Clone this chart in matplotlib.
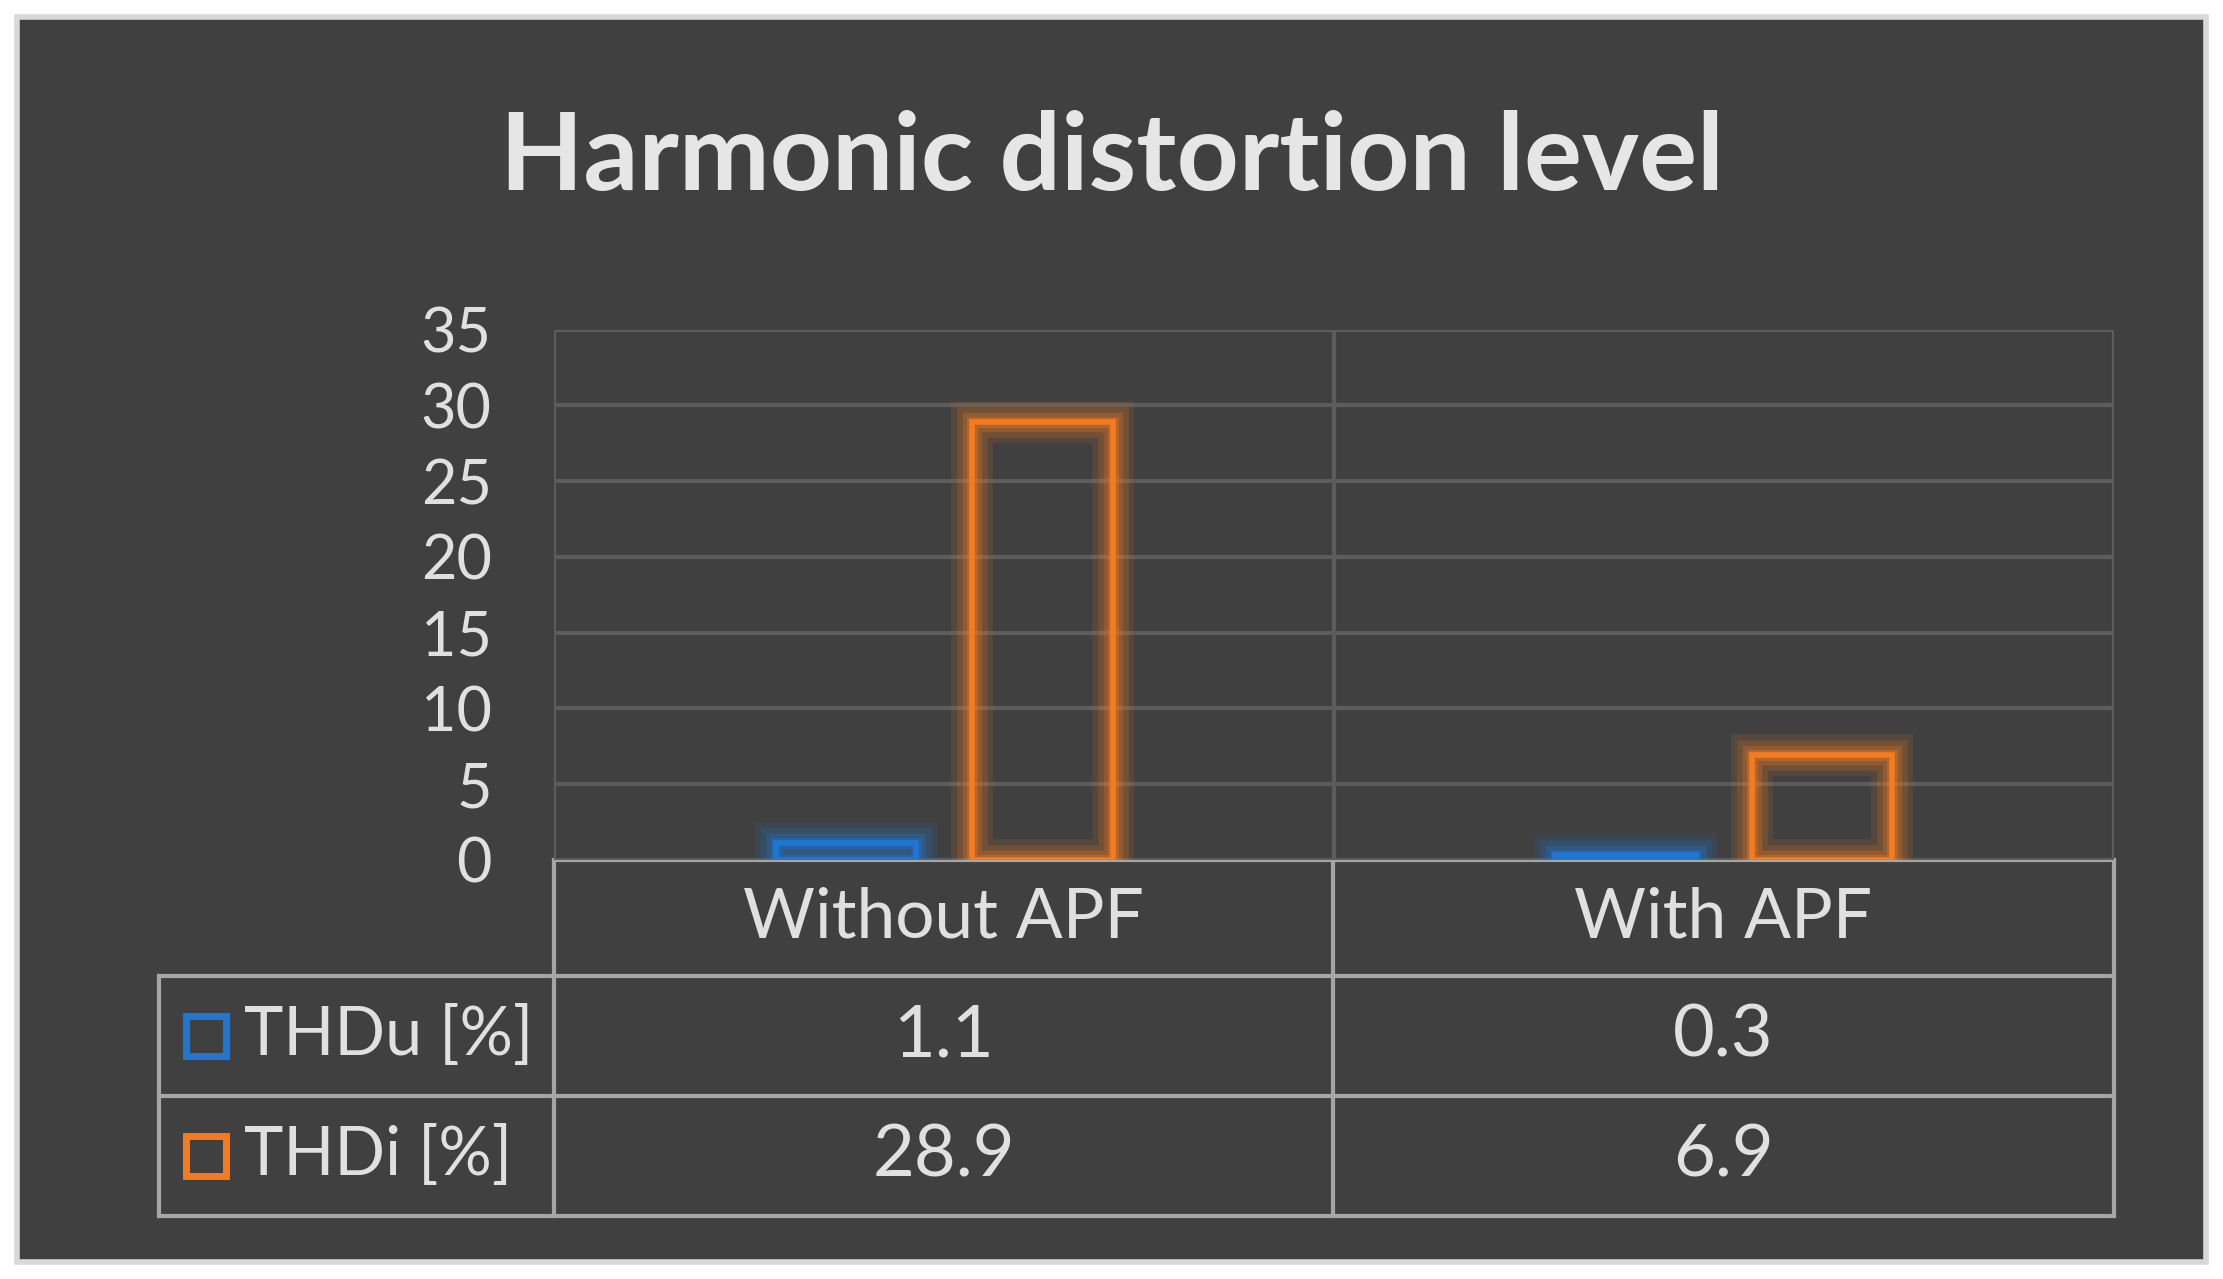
import matplotlib.pyplot as plt
from matplotlib.patches import Rectangle

categories = ["Without APF", "With APF"]
series = ["THDu [%]", "THDi [%]"]
thdu = [1.1, 0.3]
thdi = [28.9, 6.9]
colors = ["#1f77d4", "#f47b20"]
yticks = [0, 5, 10, 15, 20, 25, 30, 35]

W, H = 1564, 900
bg = "#404040"
fig = plt.figure(figsize=(22.23, 12.79), dpi=100, facecolor="white")
plt.rcParams["font.family"] = ["Lato", "DejaVu Sans"]

def fx(x):
    return x / W

def fy(y):
    return 1 - y / H

# full-figure overlay for frame + table
ov = fig.add_axes([0, 0, 1, 1])
ov.set_xlim(0, W)
ov.set_ylim(H, 0)
ov.axis("off")
ov.add_patch(Rectangle((12, 12), 1540, 876, facecolor=bg, edgecolor="#d9d9d9", lw=4))
ov.text(782, 112, "Harmonic distortion level", ha="center", va="center",
        fontsize=78, fontweight="bold", color="#e6e6e6")

# plot area
x0, x1, ytop, ybot = 390, 1487, 232, 605
ax = fig.add_axes([fx(x0), fy(ybot), fx(x1 - x0), (ybot - ytop) / H])
ax.set_facecolor(bg)
ax.set_xlim(0, 2)
ax.set_ylim(0, 35)
ax.set_yticks(yticks)
ax.set_yticklabels([str(t) for t in yticks], fontsize=44, color="#e0e0e0")
ax.tick_params(axis="y", length=0, pad=45)
ax.set_xticks([])
for s in ax.spines.values():
    s.set_visible(False)
for t in yticks:
    ax.axhline(t, color="#5c5c5c", lw=3, zorder=1)
for xv in [0, 1, 2]:
    ax.axvline(xv, color="#5c5c5c", lw=3, zorder=1)

bw = 0.18
for i, vals in enumerate([thdu, thdi]):
    off = -0.126 if i == 0 else 0.126
    for j, v in enumerate(vals):
        xc = j + 0.5 + off
        for lw, a in [(30, 0.12), (22, 0.18), (14, 0.25), (8, 0.35)]:
            ax.add_patch(Rectangle((xc - bw / 2, 0), bw, v, fill=False,
                                   edgecolor=colors[i], lw=lw, alpha=a, zorder=2))
        ax.add_patch(Rectangle((xc - bw / 2, 0), bw, v, fill=False,
                               edgecolor=colors[i], lw=4, zorder=3))

# table
lc = "#a6a6a6"
rows = [605, 687, 771, 856]
cols = [112, 390, 938, 1487]
ov.plot([390, 1487], [605, 605], color=lc, lw=3)
for y in rows[1:]:
    ov.plot([112, 1487], [y, y], color=lc, lw=3)
ov.plot([112, 112], [687, 856], color=lc, lw=3)
for x in cols[1:]:
    ov.plot([x, x], [605, 856], color=lc, lw=3)
txt = "#e0e0e0"
for j, c in enumerate(categories):
    ov.text((cols[j + 1] + cols[j + 2]) / 2, 646, c, ha="center", va="center",
            fontsize=50, color=txt)
for i, (name, vals) in enumerate(zip(series, [thdu, thdi])):
    yc = (rows[i + 1] + rows[i + 2]) / 2
    ov.add_patch(Rectangle((131, yc - 14), 28, 28, fill=False, edgecolor=colors[i], lw=5))
    ov.text(172, yc, name, ha="left", va="center", fontsize=48, color=txt)
    for j, v in enumerate(vals):
        ov.text((cols[j + 1] + cols[j + 2]) / 2, yc, f"{v}", ha="center", va="center",
                fontsize=52, color=txt)

fig.savefig("out.png", dpi=100, facecolor="white")
